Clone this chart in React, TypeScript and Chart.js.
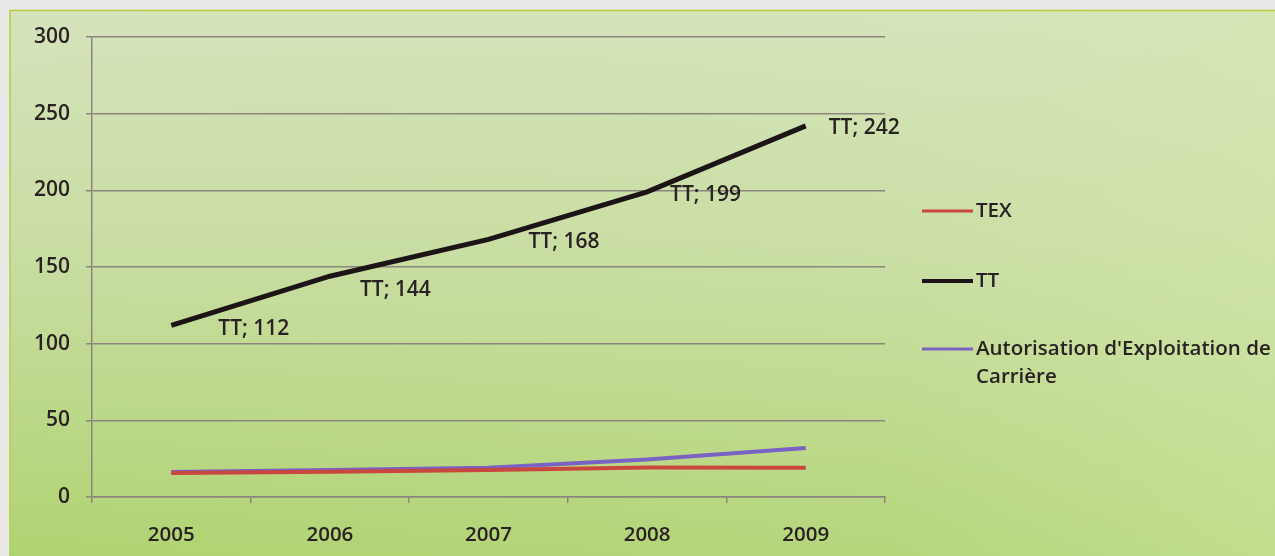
import React, { useEffect, useRef } from "react";
import { Chart, registerables } from "chart.js";

Chart.register(...registerables);

const years = ["2005", "2006", "2007", "2008", "2009"];
const texValues = [15.6, 16.5, 17.6, 19.2, 19.0];
const ttValues = [112, 144, 168, 199, 242];
const aecValues = [16.3, 17.6, 19.0, 24.5, 32.0];
const yTicks = [0, 50, 100, 150, 200, 250, 300];
const legendLabels = [["TEX"], ["TT"], ["Autorisation d'Exploitation de", "Carrière"]];
const ttLabelOffsets = [[47, 4], [30, 14], [40, 3], [23, 3], [23, 2]];

const TEXT = "#2a2123";
const FONT = "'Open Sans', 'DejaVu Sans', sans-serif";

const bgPlugin = {
  id: "bgPanel",
  beforeDraw(chart: any) {
    const { ctx, width, height } = chart;
    ctx.save();
    ctx.fillStyle = "#e9e9e7";
    ctx.fillRect(0, 0, width, height);
    const g = ctx.createLinearGradient(0, 10, 0, height);
    g.addColorStop(0, "#d5e3bc");
    g.addColorStop(0.45, "#c8dda2");
    g.addColorStop(1, "#b0d372");
    ctx.fillStyle = g;
    ctx.fillRect(10, 10, width - 10, height - 10);
    const h = ctx.createLinearGradient(10, 0, width, 0);
    h.addColorStop(0, "rgba(200,225,150,0)");
    h.addColorStop(0.7, "rgba(215,232,180,0.15)");
    h.addColorStop(1, "rgba(215,235,175,0.45)");
    ctx.fillStyle = h;
    ctx.fillRect(10, 10, width - 10, height - 10);
    ctx.strokeStyle = "#b2cf3c";
    ctx.lineWidth = 1.5;
    ctx.beginPath();
    ctx.moveTo(10, height);
    ctx.lineTo(10, 10.5);
    ctx.lineTo(width, 10.5);
    ctx.stroke();
    ctx.restore();
  },
};

const labelPlugin = {
  id: "ttLabels",
  afterDatasetsDraw(chart: any) {
    const { ctx } = chart;
    const meta = chart.getDatasetMeta(1);
    ctx.save();
    ctx.font = `600 21px ${FONT}`;
    ctx.fillStyle = TEXT;
    ctx.textBaseline = "middle";
    ctx.textAlign = "left";
    meta.data.forEach((pt: any, i: number) => {
      const [dx, dy] = ttLabelOffsets[i];
      ctx.fillText(`TT; ${ttValues[i]}`, pt.x + dx, pt.y + dy);
    });
    ctx.restore();
  },
};

const legendPlugin = {
  id: "sideLegend",
  afterDraw(chart: any) {
    const { ctx } = chart;
    const ds = chart.data.datasets;
    const ys = [211, 281, 349];
    ctx.save();
    ctx.font = `600 20.5px ${FONT}`;
    ctx.textBaseline = "middle";
    ctx.textAlign = "left";
    ds.forEach((d: any, i: number) => {
      const y = ys[i];
      ctx.strokeStyle = d.borderColor;
      ctx.lineWidth = i === 1 ? 4 : 3;
      ctx.beginPath();
      ctx.moveTo(922, y);
      ctx.lineTo(973, y);
      ctx.stroke();
      ctx.fillStyle = TEXT;
      legendLabels[i].forEach((line, j) => {
        ctx.fillText(line, 976, y + j * 28);
      });
    });
    ctx.restore();
  },
};

export default function App() {
  const ref = useRef<HTMLCanvasElement>(null);
  useEffect(() => {
    document.body.style.margin = "0";
    const chart = new Chart(ref.current!, {
      type: "line",
      data: {
        labels: years,
        datasets: [
          { label: "TEX", data: texValues, borderColor: "#c9473c", borderWidth: 4, pointRadius: 0, tension: 0 },
          { label: "TT", data: ttValues, borderColor: "#1c1416", borderWidth: 5, pointRadius: 0, tension: 0 },
          { label: "Autorisation d'Exploitation de Carrière", data: aecValues, borderColor: "#7a62c4", borderWidth: 4, pointRadius: 0, tension: 0 },
        ],
      },
      options: {
        animation: false,
        responsive: false,
        maintainAspectRatio: false,
        layout: { padding: { top: 37, right: 390, left: 0, bottom: 0 } },
        plugins: { legend: { display: false }, tooltip: { enabled: false } },
        scales: {
          x: {
            offset: true,
            grid: { display: true, drawOnChartArea: false, drawTicks: true, tickLength: 6, color: "#8c857f", lineWidth: 1.5, offset: true },
            border: { display: true, color: "#8c857f", width: 1.5 },
            ticks: { color: TEXT, font: { family: FONT, size: 20.5, weight: "600" }, padding: 20, maxRotation: 0 },
            afterFit(scale: any) { scale.height = 59; },
          },
          y: {
            min: 0,
            max: 300,
            afterBuildTicks(scale: any) { scale.ticks = yTicks.map((v) => ({ value: v })); },
            grid: { color: "#8c857f", lineWidth: 1.5, tickLength: 6 },
            border: { display: true, color: "#8c857f", width: 1.5 },
            ticks: { color: TEXT, font: { family: FONT, size: 21, weight: "600" }, padding: 16 },
            afterFit(scale: any) { scale.width = 92; },
          },
        },
      },
      plugins: [bgPlugin, labelPlugin, legendPlugin],
    });
    return () => chart.destroy();
  }, []);
  return (
    <div style={{ width: 1275, height: 556 }}>
      <canvas ref={ref} width={1275} height={556} style={{ display: "block" }} />
    </div>
  );
}
